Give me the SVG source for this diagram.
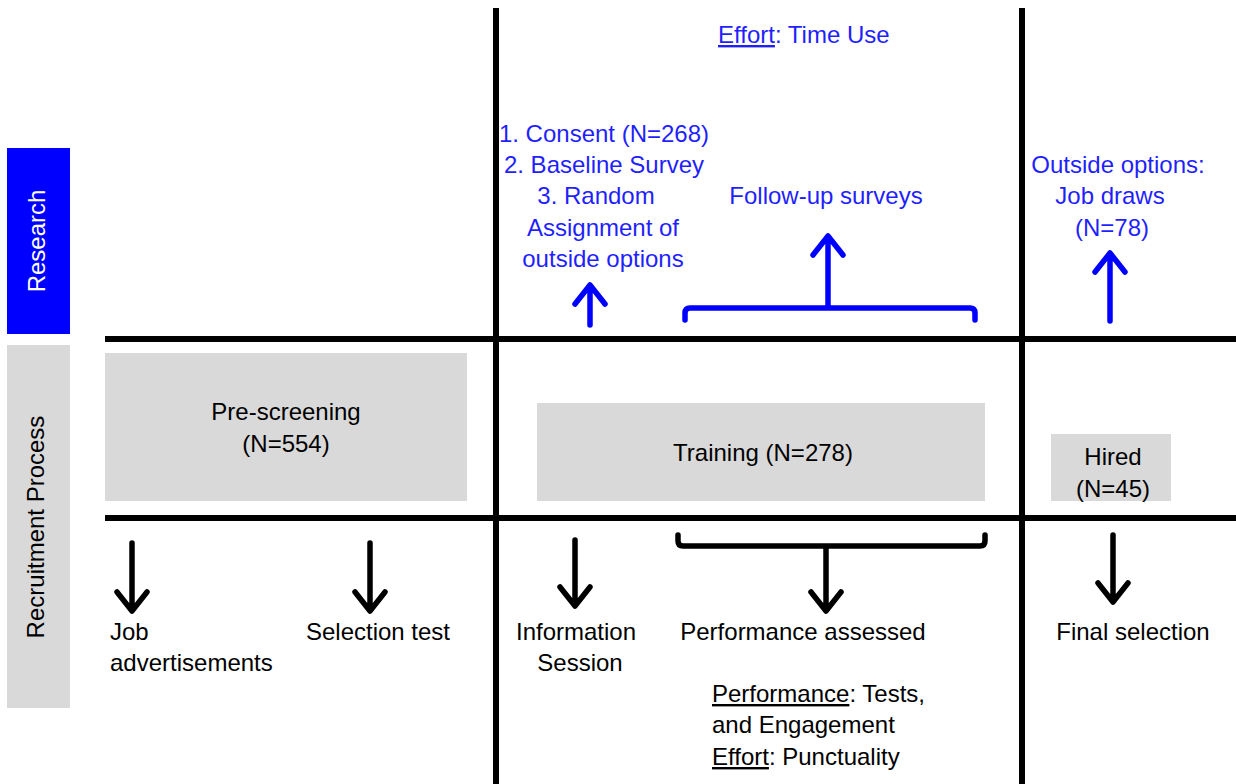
<svg xmlns="http://www.w3.org/2000/svg" width="1236" height="784" viewBox="0 0 1236 784">
<style>
text{font-family:"Liberation Sans",Arial,sans-serif;font-size:24px}
.k{fill:#000}
.b{fill:#1f1fff}
.m{text-anchor:middle}
.u{text-decoration:underline}
.grid{stroke:#000;stroke-width:6;fill:none}
.ka{stroke:#000;stroke-width:5.5;fill:none;stroke-linecap:round;stroke-linejoin:round}
.ba{stroke:#0000ff;stroke-width:5.5;fill:none;stroke-linecap:round;stroke-linejoin:round}
.box{fill:#d9d9d9}
</style>
<rect width="1236" height="784" fill="#fff"/>
<g id="lane-research">
<rect x="7" y="148" width="63" height="186" fill="#0000ff"/>
<text x="0" y="0" class="m" fill="#fff" transform="translate(45,241) rotate(-90)">Research</text>
</g>
<g id="lane-recruitment">
<rect x="7" y="345" width="63" height="363" class="box"/>
<text x="0" y="0" class="m k" transform="translate(44,527) rotate(-90)">Recruitment Process</text>
</g>
<g id="grid">
<line x1="105" y1="339" x2="1236" y2="339" class="grid"/>
<line x1="105" y1="518" x2="1236" y2="518" class="grid"/>
<line x1="496" y1="8" x2="496" y2="784" class="grid"/>
<line x1="1022" y1="8" x2="1022" y2="784" class="grid"/>
</g>
<g id="prescreening">
<rect x="105" y="353" width="362" height="148" class="box"/>
<text x="286" y="420" class="m k">Pre-screening</text>
<text x="286" y="452" class="m k">(N=554)</text>
</g>
<g id="training">
<rect x="537" y="403" width="448" height="98" class="box"/>
<text x="763" y="461" class="m k">Training (N=278)</text>
</g>
<g id="hired">
<rect x="1051" y="434" width="120" height="67" class="box"/>
<text x="1113" y="465" class="m k">Hired</text>
<text x="1113" y="497" class="m k">(N=45)</text>
</g>
<g id="effort-time-use">
<text x="718" y="43" class="b"><tspan class="u">Effort</tspan>: Time Use</text>
</g>
<g id="consent">
<text x="604" y="142" class="m b">1. Consent (N=268)</text>
<text x="604" y="173" class="m b">2. Baseline Survey</text>
<text x="596" y="204" class="m b">3. Random</text>
<text x="603" y="236" class="m b">Assignment of</text>
<text x="603" y="267" class="m b">outside options</text>
</g>
<g id="followup">
<text x="826" y="204" class="m b">Follow-up surveys</text>
</g>
<g id="outside-options">
<text x="1118" y="173" class="m b">Outside options:</text>
<text x="1110" y="204" class="m b">Job draws</text>
<text x="1112" y="236" class="m b">(N=78)</text>
</g>
<g id="job-ads">
<text x="110" y="640" class="k">Job</text>
<text x="110" y="671" class="k">advertisements</text>
</g>
<g id="selection-test">
<text x="378" y="640" class="m k">Selection test</text>
</g>
<g id="info-session">
<text x="576" y="640" class="m k">Information</text>
<text x="580" y="671" class="m k">Session</text>
</g>
<g id="performance-assessed">
<text x="803" y="640" class="m k">Performance assessed</text>
<text x="712" y="702" class="k"><tspan class="u">Performance</tspan>: Tests,</text>
<text x="712" y="733" class="k">and Engagement</text>
<text x="712" y="765" class="k"><tspan class="u">Effort</tspan>: Punctuality</text>
</g>
<g id="final-selection">
<text x="1133" y="640" class="m k">Final selection</text>
</g>
<g id="connectors">
<path d="M132 543 V610 M117 592 L132 611 L147 592" class="ka"/>
<path d="M370 543 V610 M355 592 L370 611 L385 592" class="ka"/>
<path d="M575 540 V605 M560 587 L575 606 L590 587" class="ka"/>
<path d="M678 535 V541 Q678 546 683 546 H980 Q985 546 985 541 V535 M826 546 V610 M811 592 L826 611 L841 592" class="ka"/>
<path d="M1113 535 V601 M1098 583 L1113 602 L1128 583" class="ka"/>
<path d="M590 325 V286 M575 304 L590 285 L605 304" class="ba"/>
<path d="M685 320 V313 Q685 308 690 308 H970 Q975 308 975 313 V320 M828 308 V237 M813 255 L828 236 L843 255" class="ba"/>
<path d="M1110 321 V254 M1095 272 L1110 253 L1125 272" class="ba"/>
</g>
</svg>
